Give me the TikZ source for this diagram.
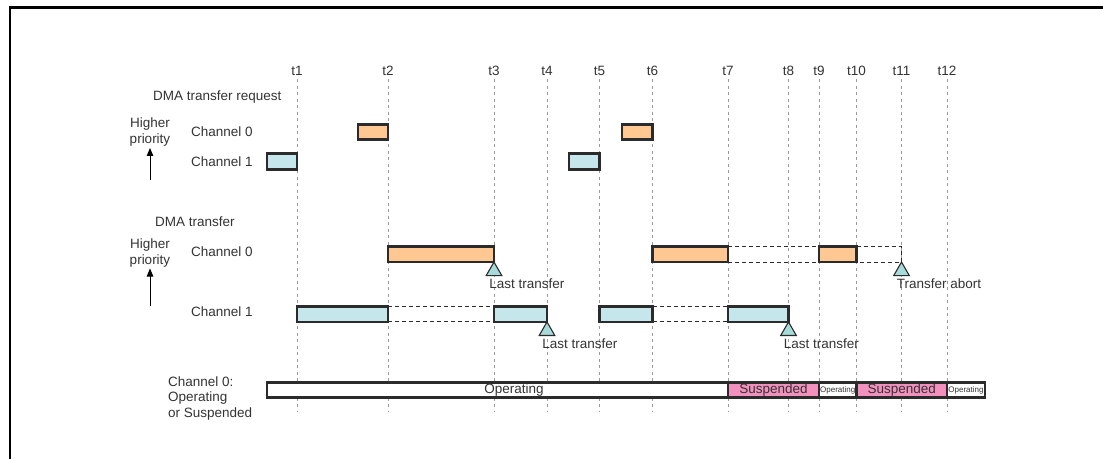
\documentclass[tikz,border=0pt]{standalone}
\usepackage{fontspec}
\setmainfont{Liberation Sans}
\usetikzlibrary{arrows.meta, positioning, shapes.geometric}
\definecolor{dmaInk}{HTML}{2B2B2B}
\definecolor{dmaText}{HTML}{333333}
\definecolor{dmaGrid}{HTML}{9A9A9A}
\definecolor{dmaOrange}{HTML}{FFC893}
\definecolor{dmaBlue}{HTML}{C5E7EB}
\definecolor{dmaPink}{HTML}{F391BE}
\definecolor{dmaTeal}{HTML}{A7DBDA}
\tikzset{
  %% -- Bars ---------------------------------------------------------------
  %% one weight for every bar; only the fill tells the channel apart
  bloc/.style       = {draw=dmaInk, line width=2.8pt, inner sep=0pt,
                       outer sep=0pt, minimum height=15.5pt},
  blocCh0/.style    = {bloc, fill=dmaOrange},
  blocCh1/.style    = {bloc, fill=dmaBlue},
  blocOp/.style     = {bloc, fill=white, text=dmaText},
  blocOpPetit/.style= {blocOp, font=\fontsize{8}{9}\selectfont},
  blocSusp/.style   = {bloc, fill=dmaPink, text=dmaText},
  %%
  %% -- Marks and lines ----------------------------------------------------
  pointe/.style     = {regular polygon, regular polygon sides=3,
                       minimum size=18pt, inner sep=0pt, outer sep=0pt,
                       draw=dmaInk, line width=1.1pt, fill=dmaTeal,
                       anchor=corner 1},
  tirets/.style     = {draw=dmaInk, line width=1pt, dash pattern=on 4pt off 3pt},
  repere/.style     = {draw=dmaGrid, line width=1pt, dash pattern=on 3pt off 3.5pt},
  fleche/.style     = {-{Triangle[length=8pt, width=6.5pt]}, draw=black,
                       line width=1pt},
  cadre/.style      = {draw=black, line width=2.6pt},
  %%
  %% -- Text ---------------------------------------------------------------
  etiquette/.style  = {text=dmaText, inner sep=3pt, anchor=north west},
  titreLigne/.style = {text=dmaText, inner sep=1pt, anchor=west},
}

\begin{document}
\begin{tikzpicture}[x=1pt, y=-1pt, font=\fontsize{13.5}{16}\selectfont]
\useasboundingbox (0,0) rectangle (1103,459);
\draw[cadre] (10,459) -- (10,7.5) -- (1103,7.5);

% time marks
\foreach \i/\x in {1/297, 2/388, 3/494, 4/547, 5/599.5, 6/652.5, 7/728,
                   8/788.5, 9/819, 10/856.5, 11/901.5, 12/947} {
  \coordinate (t\i) at (\x,0);
  \node[text=dmaText, inner sep=0pt] (rt\i) at (\x,71) {t\i};
  \draw[repere] (\x,79) -- (\x,411);
}

% row titles
\node[titreLigne] (titreReq) at (152,97) {DMA transfer request};
\node[titreLigne] (titreXfr) at (154,222) {DMA transfer};
\node[titreLigne] (nomR0) at (190,132) {Channel 0};
\node[titreLigne] (nomR1) at (190,161.5) {Channel 1};
\node[titreLigne] (nomX0) at (190,252) {Channel 0};
\node[titreLigne] (nomX1) at (190,312) {Channel 1};
\node[titreLigne, align=left, font=\fontsize{13.5}{15.5}\selectfont]
     (nomEtat) at (167,398) {Channel 0:\\Operating\\or Suspended};

\node[text=dmaText, align=center, inner sep=1pt] (prio1) at (150,132.5) {Higher\\priority};
\node[text=dmaText, align=center, inner sep=1pt] (prio2) at (150,253) {Higher\\priority};
\coordinate (basePrio1) at (150,180);
\coordinate (basePrio2) at (150,306);
\draw[fleche] (basePrio1) -- (prio1.south);
\draw[fleche] (basePrio2) -- (prio2.south);

% requests
\foreach \nom/\a/\b/\y/\s in {r0a/358/388/132/blocCh0, r0b/622/652.5/132/blocCh0,
                              r1a/267/297/161.5/blocCh1, r1b/569/599.5/161.5/blocCh1}
  \node[\s, minimum width={\b-\a}] (\nom) at ({(\a+\b)/2},\y) {};

% transfers
\foreach \nom/\a/\b/\y/\s in {x0a/388/494/254.3/blocCh0, x0b/652.5/728/254.3/blocCh0,
                              x0c/819/856.5/254.3/blocCh0,
                              x1a/297/388/314.2/blocCh1, x1b/494/547/314.2/blocCh1,
                              x1c/599.5/652.5/314.2/blocCh1, x1d/728/788.5/314.2/blocCh1}
  \node[\s, minimum width={\b-\a}] (\nom) at ({(\a+\b)/2},\y) {};

\foreach \g/\d in {x1a/x1b, x1c/x1d, x0b/x0c} {
  \draw[tirets] (\g.north east) -- (\d.north west);
  \draw[tirets] (\g.south east) -- (\d.south west);
}
\coordinate (abortHaut) at (901.5,246.55);
\coordinate (abortBas) at (901.5,262.05);
\draw[tirets] (x0c.north east) -- (abortHaut) -- (abortBas) -- (x0c.south east);

% end marks
\node[pointe] (fin1) at (x0a.south east) {};
\node[pointe] (fin2) at (x1b.south east) {};
\node[pointe] (fin3) at (x1d.south east) {};
\node[pointe] (fin4) at (abortBas) {};
\node[etiquette] (lbl1) at (fin1.corner 2) {Last transfer};
\node[etiquette] (lbl2) at (fin2.corner 2) {Last transfer};
\node[etiquette] (lbl3) at (fin3.corner 2) {Last transfer};
\node[etiquette] (lbl4) at (fin4.corner 2) {Transfer abort};

% channel 0 state
\foreach \nom/\a/\b/\s/\txt in {e1/267/728/blocOp/\hspace*{33pt}Operating,
                                e2/728/819/blocSusp/Suspended,
                                e3/819/856.5/blocOpPetit/Operating,
                                e4/856.5/947/blocSusp/Suspended,
                                e5/947/985/blocOpPetit/Operating}
  \node[\s, minimum width={\b-\a}] (\nom) at ({(\a+\b)/2},390) {\txt};

\end{tikzpicture}
\end{document}
